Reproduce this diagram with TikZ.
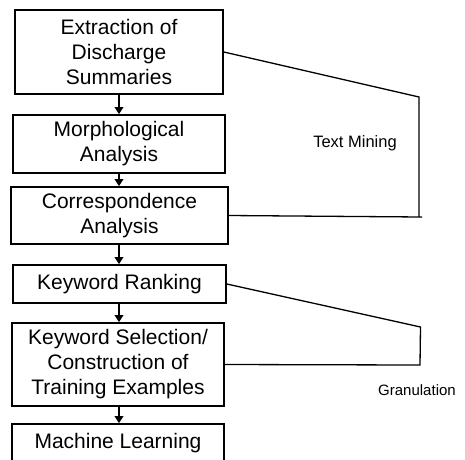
\documentclass[tikz,border=0pt]{standalone}
\usepackage{fontspec}
\setmainfont{Liberation Sans}
\usetikzlibrary{arrows.meta}
\begin{document}
\begin{tikzpicture}[x=1pt,y=-1pt,
  stepbox/.style={draw=black,line width=1.7pt,align=center,inner sep=0pt,
    font=\fontsize{21}{25}\selectfont},
  flow/.style={line width=2pt,-{Triangle[width=8.5pt,length=7pt]}},
  bracket/.style={line width=1.3pt},
  lbl/.style={font=\fontsize{15}{18}\selectfont,inner sep=0pt}]
\useasboundingbox (0,0) rectangle (465,459);
\begin{scope}
\clip (0,0) rectangle (465,459);
\node[stepbox,minimum width=208pt,minimum height=84pt] (b1) at (119,52) {Extraction of\\Discharge\\Summaries};
\node[stepbox,minimum width=212pt,minimum height=58pt] (b2) at (119,144) {Morphological\\Analysis};
\node[stepbox,minimum width=217pt,minimum height=57pt] (b3) at (119.5,215.5) {Correspondence\\Analysis};
\node[stepbox,minimum width=213pt,minimum height=38pt] (b4) at (119.5,284) {Keyword Ranking};
\node[stepbox,minimum width=212pt,minimum height=83pt] (b5) at (118,364.5) {Keyword Selection/\\Construction of\\Training Examples};
\node[stepbox,minimum width=212pt,minimum height=38pt] (b6) at (118,443) {Machine Learning};
\end{scope}
\draw[flow] (b1.south -| 119,0) -- (b2.north -| 119,0);
\draw[flow] (b2.south -| 119,0) -- (b3.north -| 119,0);
\draw[flow] (b3.south -| 119,0) -- (b4.north -| 119,0);
\draw[flow] (b4.south -| 119,0) -- (b5.north -| 119,0);
\draw[flow] (b5.south -| 119,0) -- (b6.north -| 119,0);
\coordinate (t1) at (419,97);
\coordinate (t2) at (419,217);
\coordinate (t3) at (422,217);
\draw[bracket] (b1.east) -- (t1) -- (t2);
\draw[bracket] (b3.east) -- (t3);
\coordinate (g1) at (420.5,327);
\coordinate (g2) at (420,365);
\draw[bracket] (b4.east) -- (g1) -- (g2) -- (b5.east);
\node[lbl,font=\fontsize{16.5}{19}\selectfont] (tm) at (355,143) {Text Mining};
\node[lbl] (gr) at (417,390) {Granulation};
\end{tikzpicture}
\end{document}
